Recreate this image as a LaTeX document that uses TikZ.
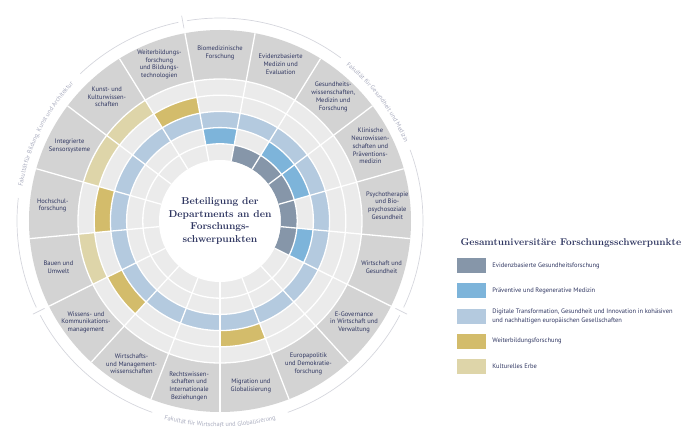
\documentclass[tikz,border=0pt]{standalone}
\usepackage{fontspec}
\usepackage{tikz}
\usetikzlibrary{positioning,decorations.text}
\newfontfamily\depfont{PT Sans}
\definecolor{evid}{HTML}{8696A9}
\definecolor{prae}{HTML}{7DB4DA}
\definecolor{digi}{HTML}{B4CADF}
\definecolor{weit}{HTML}{D3BC6B}
\definecolor{kult}{HTML}{DED5A9}
\definecolor{ringbg}{HTML}{EBEBEB}
\definecolor{depbg}{HTML}{D3D3D3}
\definecolor{navy}{HTML}{2E3560}
\definecolor{facline}{HTML}{D5D6DD}
\definecolor{factext}{HTML}{A9ACBE}
\newcommand{\secw}{21.17647}

\begin{document}
\begin{tikzpicture}[x=1pt,y=1pt,
  dep/.style={font=\depfont\fontsize{6.5}{7.7}\selectfont,text=navy,align=center,inner sep=0pt},
  sep/.style={white,line width=1.3pt},
  fac/.style={facline,line width=0.7pt},
  factxt/.style={decorate,decoration={text along path,text align=center,text color=factext,
    text={|\depfont\fontsize{6.3}{7}\selectfont|#1}}},
  lbox/.style={fill=#1,minimum width=29pt,minimum height=15pt,inner sep=0pt},
  ltext/.style={dep,font=\depfont\fontsize{6.5}{9}\selectfont,align=left},
  head/.style={font=\bfseries\fontsize{10}{12.6}\selectfont,text=navy,align=center}]
\useasboundingbox (-220,221) rectangle (476,-223);
\fill[depbg] (0,0) circle[radius=191pt];
\fill[ringbg] (0,0) circle[radius=142pt];
\fill[white] (0,0) circle[radius=61pt];
\foreach \k/\col/\secs in {1/evid/{1,2,3,4,5},2/prae/{0,2,3,5},3/digi/{0,...,16},4/weit/{8,11,13,16},5/kult/{12,14,15}}{
  \foreach \i in \secs{
    \pgfmathsetmacro\sa{90+\secw*(0.5-\i)}
    \pgfmathsetmacro\sb{\sa-\secw}
    \pgfmathsetmacro\ri{61+16.2*(\k-1)}
    \pgfmathsetmacro\ro{\ri+16.2}
    \fill[\col] (\sa:\ri pt) arc[start angle=\sa,end angle=\sb,radius=\ri pt] -- (\sb:\ro pt) arc[start angle=\sb,end angle=\sa,radius=\ro pt] -- cycle;
  }
}
\foreach \r in {77.2,93.4,109.6,125.8,142} \draw[sep] (0,0) circle[radius=\r pt];
\foreach \i in {0,...,16}{
  \pgfmathsetmacro\sa{90+\secw*(0.5-\i)}
  \draw[sep] (\sa:61pt) -- (\sa:191pt);
}
\foreach \i/\txt in {0/{Biomedizinische\\Forschung},1/{Evidenzbasierte\\Medizin und\\Evaluation},
  2/{Gesundheits-\\wissenschaften,\\Medizin und\\Forschung},3/{Klinische\\Neurowissen-\\schaften und\\Präventions-\\medizin},
  4/{Psychotherapie\\und Bio-\\psychosoziale\\Gesundheit},5/{Wirtschaft und\\Gesundheit},
  6/{E-Governance\\in Wirtschaft und\\Verwaltung},7/{Europapolitik\\und Demokratie-\\forschung},
  8/{Migration und\\Globalisierung},9/{Rechtswissen-\\schaften und\\Internationale\\Beziehungen},
  10/{Wirtschafts-\\und Management-\\wissenschaften},11/{Wissens- und\\Kommunikations-\\management},
  12/{Bauen und\\Umwelt},13/{Hochschul-\\forschung},14/{Integrierte\\Sensorsysteme},
  15/{Kunst- und\\Kulturwissen-\\schaften},16/{Weiterbildungs-\\forschung\\und Bildungs-\\technologien}}
  \node[dep] (dep\i) at ({90-\secw*\i}:168pt) {\txt};
\node[head] (title) at (0,0) {Beteiligung der\\Departments an den\\Forschungs-\\schwerpunkten};
\foreach \a/\b in {205.2/173.5,133.5/101.85,99.35/53.5,20.5/-25.2,-27.7/-70.5,-109.5/-152.3}
  \draw[fac] (\a:203pt) arc[start angle=\a,end angle=\b,radius=203pt];
\foreach \t in {100.59,-26.47,206.47} \draw[fac] (\t:196pt) -- (\t:209pt);
\path[factxt={Fakultät für Bildung, Kunst und Architektur}] (185:200.5pt) arc[start angle=185,end angle=122,radius=200.5pt];
\path[factxt={Fakultät für Gesundheit und Medizin}] (68:200.5pt) arc[start angle=68,end angle=6,radius=200.5pt];
\path[factxt={Fakultät für Wirtschaft und Globalisierung}] (-122:206pt) arc[start angle=-122,end angle=-58,radius=206pt];
\node[head,anchor=west,font=\bfseries\fontsize{9.8}{12}\selectfont] (lhead) at (237,-22) {Gesamtuniversitäre Forschungsschwerpunkte};
\node[lbox=evid] (k1) at (251.5,-44.5) {};
\node[lbox=prae,below=10pt of k1] (k2) {};
\node[lbox=digi,below=10pt of k2] (k3) {};
\node[lbox=weit,below=9.5pt of k3] (k4) {};
\node[lbox=kult,below=10pt of k4] (k5) {};
\node[ltext,right=6pt of k1] (t1) {Evidenzbasierte Gesundheitsforschung};
\node[ltext,right=6pt of k2] (t2) {Präventive und Regenerative Medizin};
\node[ltext,right=6pt of k3] (t3) {Digitale Transformation, Gesundheit und Innovation in kohäsiven\\und nachhaltigen europäischen Gesellschaften};
\node[ltext,right=6pt of k4] (t4) {Weiterbildungsforschung};
\node[ltext,right=6pt of k5] (t5) {Kulturelles Erbe};
\end{tikzpicture}
\end{document}
